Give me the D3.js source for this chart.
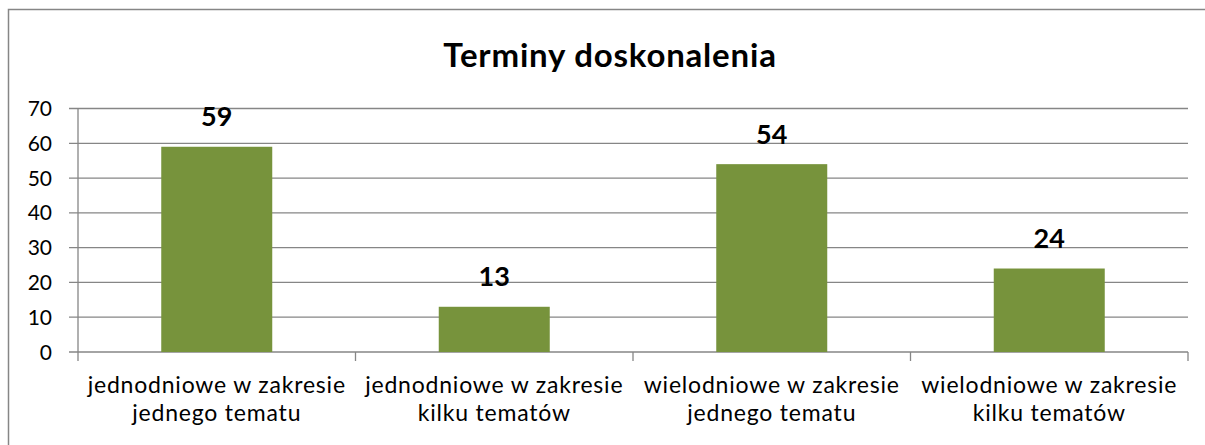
<!DOCTYPE html>
<html>
<head>
<meta charset="utf-8">
<script src="https://cdn.jsdelivr.net/npm/d3@7"></script>
<style>
  html, body { margin: 0; padding: 0; background: #fff; }
  svg { display: block; }
  text { font-family: Lato, "Open Sans", sans-serif; fill: #000; }
</style>
</head>
<body>
<svg id="chart" width="1205" height="445"></svg>
<script>
const title = "Terminy doskonalenia";
const categories = [
  ["jednodniowe w zakresie", "jednego tematu"],
  ["jednodniowe w zakresie", "kilku tematów"],
  ["wielodniowe w zakresie", "jednego tematu"],
  ["wielodniowe w zakresie", "kilku tematów"]
];
const values = [59, 13, 54, 24];
const yTicks = [0, 10, 20, 30, 40, 50, 60, 70];

const W = 1205, H = 445;
const plot = { left: 78, right: 1188, top: 108.5, bottom: 352 };
const gridColor = "#868686";
const barColor = "#77933C";

const svg = d3.select("#chart");
svg.append("rect").attr("width", W).attr("height", H).attr("fill", "#fff");

// outer chart border (extends beyond the window on the right and bottom)
svg.append("rect")
  .attr("x", 8.5).attr("y", 9.5)
  .attr("width", 1210).attr("height", 450)
  .attr("fill", "none").attr("stroke", gridColor).attr("stroke-width", 1.5);

const x = d3.scaleBand()
  .domain(d3.range(categories.length))
  .range([plot.left, plot.right])
  .paddingInner(0.6).paddingOuter(0.3);

const xEdges = d3.scaleLinear().domain([0, categories.length]).range([plot.left, plot.right]);

const y = d3.scaleLinear().domain([0, 70]).range([plot.bottom, plot.top]);

// gridlines + y tick marks
svg.append("g").selectAll("line").data(yTicks).join("line")
  .attr("x1", plot.left - 9).attr("x2", plot.right)
  .attr("y1", d => y(d)).attr("y2", d => y(d))
  .attr("stroke", gridColor).attr("stroke-width", 1.3);

// y axis line
svg.append("line")
  .attr("x1", plot.left).attr("x2", plot.left)
  .attr("y1", y(70)).attr("y2", y(0) + 9)
  .attr("stroke", gridColor).attr("stroke-width", 1.3);

// x tick marks at category boundaries
svg.append("g").selectAll("line").data(d3.range(1, categories.length + 1)).join("line")
  .attr("x1", d => xEdges(d)).attr("x2", d => xEdges(d))
  .attr("y1", y(0)).attr("y2", y(0) + 9)
  .attr("stroke", gridColor).attr("stroke-width", 1.3);

// y tick labels
svg.append("g").selectAll("text").data(yTicks).join("text")
  .attr("x", 52).attr("y", d => y(d) + 7.5)
  .attr("text-anchor", "end")
  .attr("font-size", 21)
  .text(d => d);

// bars
svg.append("g").selectAll("rect").data(values).join("rect")
  .attr("x", (d, i) => x(i)).attr("width", x.bandwidth())
  .attr("y", d => y(d)).attr("height", d => y(0) - y(d))
  .attr("fill", barColor);

// data labels
svg.append("g").selectAll("text").data(values).join("text")
  .attr("x", (d, i) => x(i) + x.bandwidth() / 2)
  .attr("y", d => y(d) - 20.5)
  .attr("text-anchor", "middle")
  .attr("font-size", 27).attr("font-weight", "bold")
  .text(d => d);

// category labels
const cat = svg.append("g").selectAll("text").data(categories).join("text")
  .attr("text-anchor", "middle")
  .attr("font-size", 23)
  .attr("letter-spacing", 0.8);
cat.selectAll("tspan").data(d => d).join("tspan")
  .attr("x", function() { const i = categories.indexOf(d3.select(this.parentNode).datum()); return x(i) + x.bandwidth() / 2; })
  .attr("y", (d, j) => 393 + j * 27.5)
  .text(d => d);

// title
svg.append("text")
  .attr("x", 610).attr("y", 66.5)
  .attr("text-anchor", "middle")
  .attr("font-size", 33).attr("font-weight", "bold")
  .attr("letter-spacing", 0.8)
  .text(title);
</script>
</body>
</html>
